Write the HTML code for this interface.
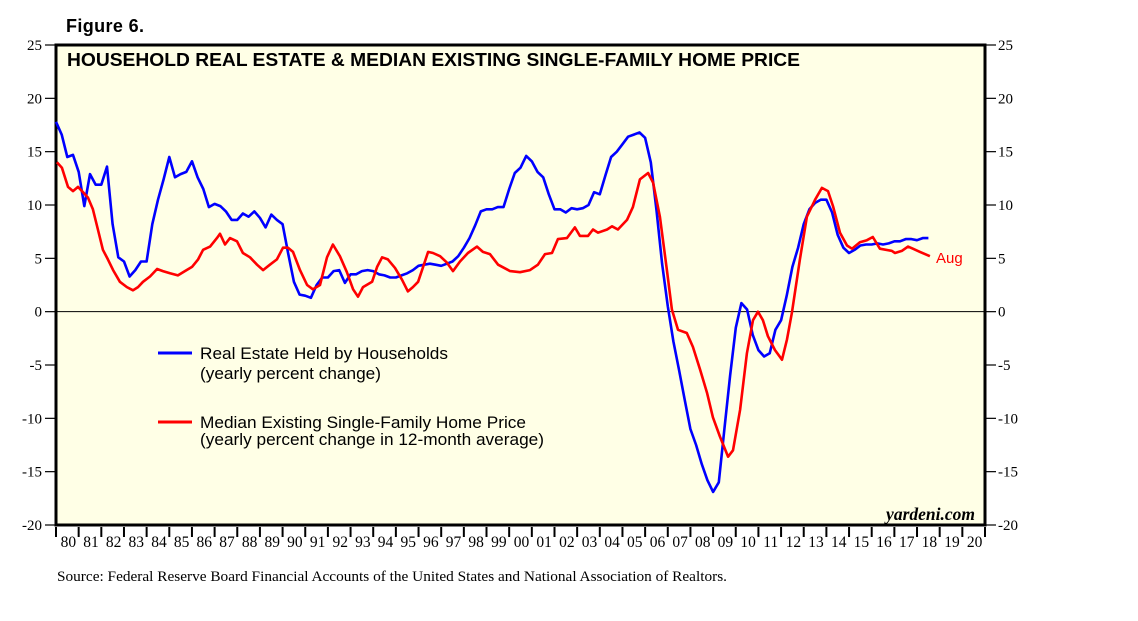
<!DOCTYPE html>
<html><head><meta charset="utf-8"><style>
body{margin:0;background:#fff;width:1138px;height:621px;overflow:hidden}
svg{display:block}
</style></head><body>
<svg id="chart" width="1138" height="621" xmlns="http://www.w3.org/2000/svg">
<text x="66" y="32" font-family="Liberation Sans, sans-serif" font-weight="bold" font-size="18" textLength="78">Figure 6.</text>
<rect x="56" y="45" width="929" height="480" fill="#ffffe6" stroke="#000" stroke-width="3"/>
<text x="67" y="66" font-family="Liberation Sans, sans-serif" font-weight="bold" font-size="18.5" textLength="733" lengthAdjust="spacingAndGlyphs">HOUSEHOLD REAL ESTATE &amp; MEDIAN EXISTING SINGLE-FAMILY HOME PRICE</text>
<g id="axes"></g>
<g id="series"></g>
<g font-family="Liberation Sans, sans-serif" font-size="16.5">
<line x1="158" y1="353" x2="192" y2="353" stroke="#0000ff" stroke-width="3"/>
<text x="200" y="359" textLength="248" lengthAdjust="spacingAndGlyphs">Real Estate Held by Households</text>
<text x="200" y="379" textLength="181" lengthAdjust="spacingAndGlyphs">(yearly percent change)</text>
<line x1="158" y1="422" x2="192" y2="422" stroke="#ff0000" stroke-width="3"/>
<text x="200" y="428" textLength="326" lengthAdjust="spacingAndGlyphs">Median Existing Single-Family Home Price</text>
<text x="200" y="445" textLength="344" lengthAdjust="spacingAndGlyphs">(yearly percent change in 12-month average)</text>
</g>
<text x="936" y="263" fill="#ff0000" font-family="Liberation Sans, sans-serif" font-size="15">Aug</text>
<text x="975" y="520" text-anchor="end" font-family="Liberation Serif, serif" font-style="italic" font-weight="bold" font-size="17.5">yardeni.com</text>
<text x="57" y="581" font-family="Liberation Serif, serif" font-size="15" textLength="670" lengthAdjust="spacingAndGlyphs">Source: Federal Reserve Board Financial Accounts of the United States and National Association of Realtors.</text>
</svg>
<script>
const yTicks=[25,20,15,10,5,0,-5,-10,-15,-20];
const yearLabels=["80","81","82","83","84","85","86","87","88","89","90","91","92","93","94","95","96","97","98","99","00","01","02","03","04","05","06","07","08","09","10","11","12","13","14","15","16","17","18","19","20"];
const householdsValues=[17.8,16.6,14.5,14.7,13.1,9.9,12.9,11.9,11.9,13.6,8.2,5.1,4.7,3.3,3.9,4.7,4.7,8.2,10.5,12.4,14.5,12.6,12.9,13.1,14.1,12.6,11.5,9.8,10.1,9.9,9.4,8.6,8.6,9.2,8.9,9.4,8.8,7.9,9.1,8.6,8.2,5.4,2.8,1.6,1.5,1.3,2.5,3.2,3.2,3.8,3.9,2.7,3.5,3.5,3.8,3.9,3.8,3.5,3.4,3.2,3.2,3.4,3.6,3.9,4.3,4.4,4.5,4.4,4.3,4.5,4.7,5.2,6.0,6.9,8.1,9.4,9.6,9.6,9.8,9.8,11.5,13.0,13.5,14.6,14.1,13.1,12.6,11.0,9.6,9.6,9.3,9.7,9.6,9.7,10.0,11.2,
11.0,12.8,14.5,15.0,15.7,16.4,16.6,16.8,16.3,14.0,9.5,4.5,0.5,-2.8,-5.5,-8.3,-11.0,-12.5,-14.3,-15.8,-16.9,-16.0,-11.0,-6.0,-1.5,0.8,0.2,-2.2,-3.6,-4.2,-3.9,-1.7,-0.8,1.5,4.2,6.0,8.2,9.6,10.2,10.5,10.5,9.3,7.2,6.0,5.5,5.8,6.2,6.3,6.3,6.4,6.3,6.4,6.6,6.6,6.8,6.8,6.7,6.9,6.9];
const householdsStart=1980;
const priceDates=[0.04,0.26,0.53,0.75,0.97,1.19,1.41,1.63,1.85,2.07,2.29,2.52,2.82,3.13,3.40,3.62,3.84,4.15,4.46,4.72,5.03,5.38,5.69,6.00,6.27,6.49,6.80,7.10,7.24,7.46,7.68,7.99,8.25,8.56,8.87,9.14,9.44,9.75,10.02,10.24,10.46,10.77,11.08,11.34,11.65,11.96,12.22,12.53,12.84,13.11,13.33,13.55,13.95,14.17,14.39,14.65,14.96,15.27,15.53,15.75,15.98,16.20,16.42,16.64,16.95,17.25,17.52,17.83,18.18,18.58,18.84,19.15,19.51,20.04,20.48,20.92,21.27,21.58,21.89,22.15,22.55,22.90,23.12,23.48,23.70,23.92,24.32,24.54,24.80,25.20,25.46,25.77,26.13,26.35,26.65,26.96,27.18,27.45,27.84,28.11,28.42,28.73,28.99,29.30,29.66,29.88,30.19,30.49,30.76,30.98,31.20,31.42,31.73,32.04,32.26,32.48,32.83,33.14,33.50,33.80,34.07,34.29,34.60,34.91,35.13,35.48,35.79,36.05,36.36,36.89,37.03,37.33,37.60,37.82,38.13,38.57];
const priceValues=[14.0,13.5,11.7,11.3,11.7,11.2,10.7,9.6,7.7,5.8,4.9,3.9,2.8,2.3,2.0,2.3,2.8,3.3,4.0,3.8,3.6,3.4,3.8,4.2,4.9,5.8,6.1,6.9,7.3,6.3,6.9,6.6,5.5,5.1,4.4,3.9,4.4,4.9,6.0,6.0,5.6,3.9,2.5,2.1,2.5,5.1,6.3,5.2,3.7,2.1,1.4,2.3,2.8,4.2,5.1,4.9,4.1,3.0,1.9,2.3,2.8,4.2,5.6,5.5,5.2,4.6,3.8,4.7,5.5,6.1,5.6,5.4,4.4,3.8,3.7,3.9,4.4,5.4,5.5,6.8,6.9,7.9,7.1,7.1,7.7,7.4,7.7,8.0,7.7,8.6,9.8,12.4,13.0,12.1,8.9,3.9,0.2,-1.7,-2.0,-3.3,-5.4,-7.6,-9.9,-11.7,-13.6,-13.0,-9.2,-3.9,-0.8,0.0,-0.8,-2.3,-3.6,-4.5,-2.6,-0.1,4.9,8.9,10.5,11.6,11.3,9.9,7.4,6.2,5.9,6.5,6.7,7.0,5.9,5.7,5.5,5.7,6.1,5.9,5.6,5.2];

const NS="http://www.w3.org/2000/svg";
const X0=56,X1=985,Y0=45,Y1=525,YMAX=25,YMIN=-20,YEAR0=1980,YEARS=41;
function xs(yr){return X0+(yr-YEAR0)/YEARS*(X1-X0);}
function ys(v){return Y0+(YMAX-v)/(YMAX-YMIN)*(Y1-Y0);}
function mk(tag,attrs,parent){const e=document.createElementNS(NS,tag);for(const k in attrs)e.setAttribute(k,attrs[k]);parent.appendChild(e);return e;}
const axes=document.getElementById('axes');
yTicks.forEach(v=>{
  const y=ys(v);
  const tl=mk('line',{x1:45,x2:55,y1:y,y2:y,stroke:'#000','stroke-width':1.2},axes);
  
  
  const tr=mk('line',{x1:986,x2:996,y1:y,y2:y,stroke:'#000','stroke-width':1.2},axes);
  
  
  const ll=mk('text',{x:42,y:y+5,'text-anchor':'end','font-family':'Liberation Serif, serif','font-size':15},axes);
  ll.textContent=v;
  
  
  const lr=mk('text',{x:998,y:y+5,'font-family':'Liberation Serif, serif','font-size':15},axes);
  lr.textContent=v;
  
  
});
const zl=mk('line',{x1:X0,x2:X1,y1:ys(0),y2:ys(0),stroke:'#000','stroke-width':1},axes);


yearLabels.forEach((lab,i)=>{
  const x=xs(YEAR0+i);
  const t=mk('line',{x1:x,x2:x,y1:527,y2:537,stroke:'#000','stroke-width':2},axes);
  
  
  const tx=mk('text',{x:x+(X1-X0)/YEARS/2+1,y:547,'text-anchor':'middle','font-family':'Liberation Serif, serif','font-size':15.5},axes);
  tx.textContent=lab;
  
  
});
const lt=mk('line',{x1:X1,x2:X1,y1:527,y2:537,stroke:'#000','stroke-width':2},axes);


const ser=document.getElementById('series');
const pb=householdsValues.map((v,i)=>xs(householdsStart+i*0.25).toFixed(1)+','+ys(v).toFixed(1)).join(' ');
const bl=mk('polyline',{points:pb,fill:'none',stroke:'#0000ff','stroke-width':2.6,'stroke-linejoin':'round'},ser);


const pr=priceValues.map((v,i)=>xs(YEAR0+priceDates[i]).toFixed(1)+','+ys(v).toFixed(1)).join(' ');
const rl=mk('polyline',{points:pr,fill:'none',stroke:'#ff0000','stroke-width':2.6,'stroke-linejoin':'round'},ser);


</script>
</body></html>
